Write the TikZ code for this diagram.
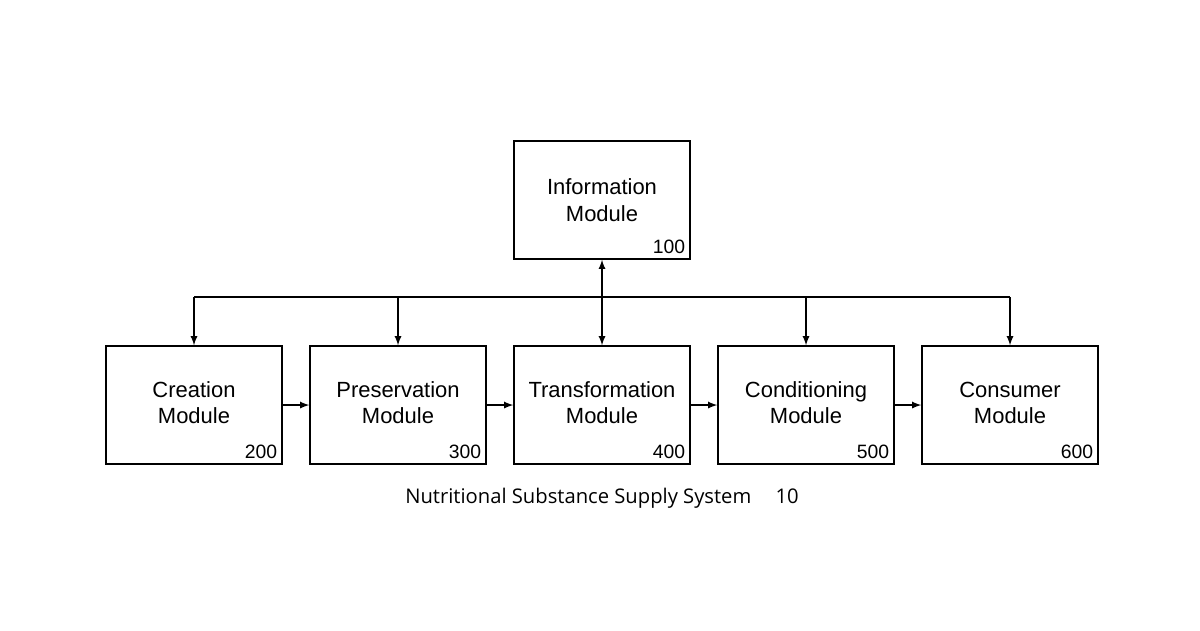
\documentclass[tikz,border=0pt]{standalone}
\usepackage{fontspec}
\setmainfont{Liberation Sans}
\newfontfamily\capfont{Open Sans}
\usetikzlibrary{positioning}
\begin{document}
\begin{tikzpicture}[x=0.02cm,y=-0.02cm,
  module/.style={draw,line width=0.8pt,minimum width=3.52cm,minimum height=2.36cm,inner sep=0pt,align=center,font=\fontsize{12.5}{15}\selectfont},
  arr/.style={-latex,line width=0.8pt},
  num/.style={font=\fontsize{11}{13}\selectfont,anchor=south east,inner sep=3pt}]
\useasboundingbox (0,0) rectangle (1200,630);
\node[module] (info) at (602,200) {Information\\Module};
\node[num] at (info.south east) {100};
\foreach \n/\x/\t/\v in {crea/194/Creation/200,pres/398/Preservation/300,tran/602/Transformation/400,cond/806/Conditioning/500,cons/1010/Consumer/600}{
  \node[module] (\n) at (\x,405) {\raisebox{6pt}{\begin{tabular}{@{}c@{}}\t\\Module\end{tabular}}};
  \node[num] at (\n.south east) {\v};
}
\coordinate (busl) at (194,297);
\coordinate (busr) at (1010,297);
\draw[line width=0.8pt] (busl) -- (busr);
\foreach \n in {crea,pres,cond,cons}
  \draw[arr] (busl -| \n) -- (\n.north);
\draw[latex-latex,line width=0.8pt] (tran.north) -- (info.south);
\foreach \a/\b in {crea/pres,pres/tran,tran/cond,cond/cons}
  \draw[arr] (\a.east) -- (\b.west);
\node[font=\capfont\fontsize{11.5}{14}\selectfont] (cap) at (602,498) {Nutritional Substance Supply System\hspace{1.2em}10};
\end{tikzpicture}
\end{document}
